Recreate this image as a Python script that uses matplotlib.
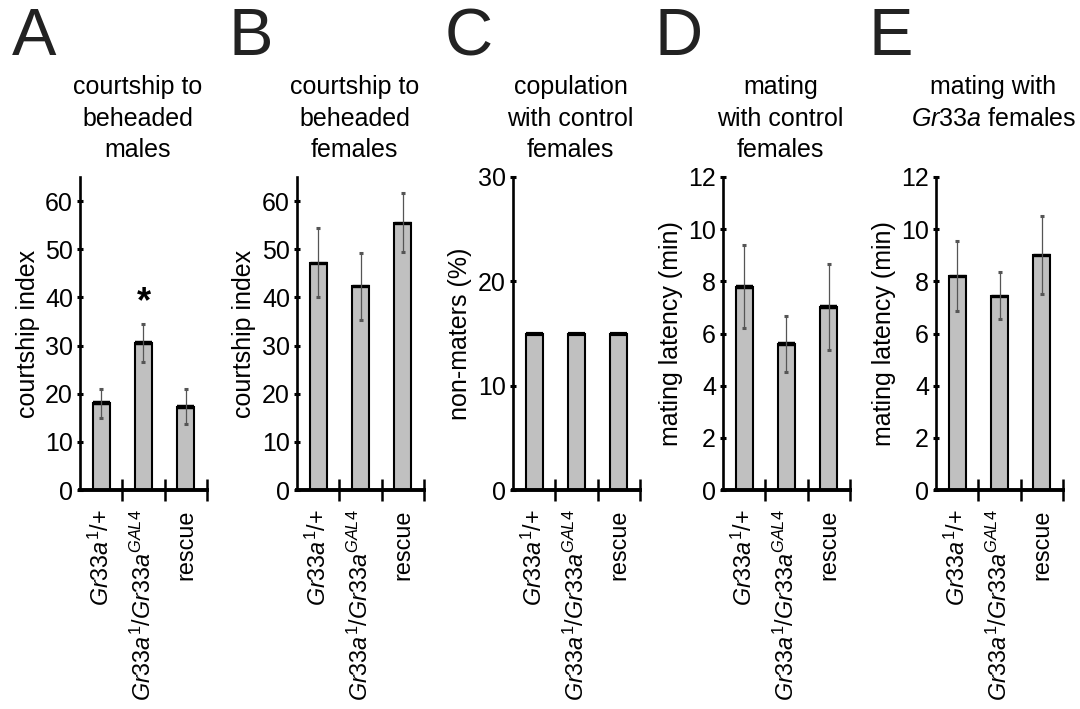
import matplotlib
matplotlib.use("Agg")
import matplotlib.pyplot as plt
import numpy as np

plt.rcParams['font.family'] = ['Liberation Sans', 'DejaVu Sans']
plt.rcParams['mathtext.fontset'] = 'custom'
plt.rcParams['mathtext.it'] = 'Liberation Sans:italic'
plt.rcParams['mathtext.rm'] = 'Liberation Sans'
plt.rcParams['mathtext.sf'] = 'Liberation Sans'

# ---------------- data ----------------
genotypes = [r'$\mathit{Gr33a}^{\mathit{1}}$/+',
             r'$\mathit{Gr33a}^{\mathit{1}}\mathit{/Gr33a}^{\mathit{GAL4}}$',
             'rescue']

panel_letters = ['A', 'B', 'C', 'D', 'E']
titles = ['courtship to\nbeheaded\nmales',
          'courtship to\nbeheaded\nfemales',
          'copulation\nwith control\nfemales',
          'mating\nwith control\nfemales',
          'mating with\n$\\mathit{Gr33a}$ females']
ylabels = ['courtship index', 'courtship index', 'non-maters (%)',
           'mating latency (min)', 'mating latency (min)']

A_mean = [18.0, 30.5, 17.3]
A_err = [3.0, 3.9, 3.6]
B_mean = [47.2, 42.3, 55.5]
B_err = [7.2, 6.9, 6.1]
C_mean = [15.0, 15.0, 15.0]
C_err = None
D_mean = [7.8, 5.6, 7.0]
D_err = [1.6, 1.08, 1.65]
E_mean = [8.2, 7.45, 9.0]
E_err = [1.35, 0.9, 1.5]

means = [A_mean, B_mean, C_mean, D_mean, E_mean]
errs = [A_err, B_err, C_err, D_err, E_err]
ylims = [65, 65, 30, 12, 12]
yticks = [np.arange(0, 61, 10), np.arange(0, 61, 10), np.arange(0, 31, 10),
          np.arange(0, 13, 2), np.arange(0, 13, 2)]
top_lw = [3.2, 2.4, 3.0, 3.2, 2.4]

# significance marker
star_panel = 0
star_index = 1
star_y = 38.8

# ---------------- figure ----------------
W, H = 1080, 709
fig = plt.figure(figsize=(W / 100, H / 100), dpi=100)

ax_left_px = [80, 297, 513, 723, 936]
ax_w_px = 127
ax_bottom_px = 490
ax_top_px = 177

FS = 18
XFS = 16.8
bar_color = '#c0c0c0'
bw = 0.4

for i in range(5):
    l = ax_left_px[i] / W
    b = 1 - ax_bottom_px / H
    h = (ax_bottom_px - ax_top_px) / H
    ax = fig.add_axes([l, b, ax_w_px / W, h])
    x = np.arange(3)
    ax.bar(x, means[i], width=bw, color=bar_color, edgecolor='black',
           linewidth=1.5, zorder=2)
    ax.hlines(means[i], x - bw / 2, x + bw / 2, color='black',
              linewidth=top_lw[i], zorder=3)
    if errs[i] is not None:
        ax.errorbar(x, means[i], yerr=errs[i], fmt='none', ecolor='#555555',
                    elinewidth=0.9, capsize=1.2, capthick=2.2, zorder=4)
    ax.set_xlim(-0.5, 2.5)
    ax.set_ylim(0, ylims[i])
    ax.set_yticks(yticks[i])
    ax.tick_params(axis='y', direction='inout', length=4, width=2.2,
                   labelsize=FS, pad=3)
    ax.set_xticks(x)
    ax.set_xticklabels(genotypes, rotation=90, fontsize=XFS, va='top', ha='center')
    ax.tick_params(axis='x', which='major', length=0, pad=14)
    ax.set_xticks([0.5, 1.5, 2.5], minor=True)
    ax.tick_params(axis='x', which='minor', direction='inout', length=16,
                   width=1.8)
    for s in ['top', 'right']:
        ax.spines[s].set_visible(False)
    ax.spines['left'].set_linewidth(1.9)
    ax.spines['bottom'].set_linewidth(2.8)
    ax.set_ylabel(ylabels[i], fontsize=FS, labelpad=4)
    ax.patch.set_alpha(0)

    cx = (ax_left_px[i] + ax_w_px / 2 - 6) / W
    fig.text(cx, 1 - 75 / H, titles[i], ha='center', va='top', fontsize=FS,
             linespacing=1.4)
    fig.text((ax_left_px[i] - 68) / W, 1 - 55 / H, panel_letters[i],
             ha='left', va='baseline', fontsize=48, color='#222222')

    if i == star_panel:
        ax.text(star_index, star_y, '*', ha='center', va='center',
                fontsize=26, fontweight='bold')

fig.savefig('out.png', dpi=100)
